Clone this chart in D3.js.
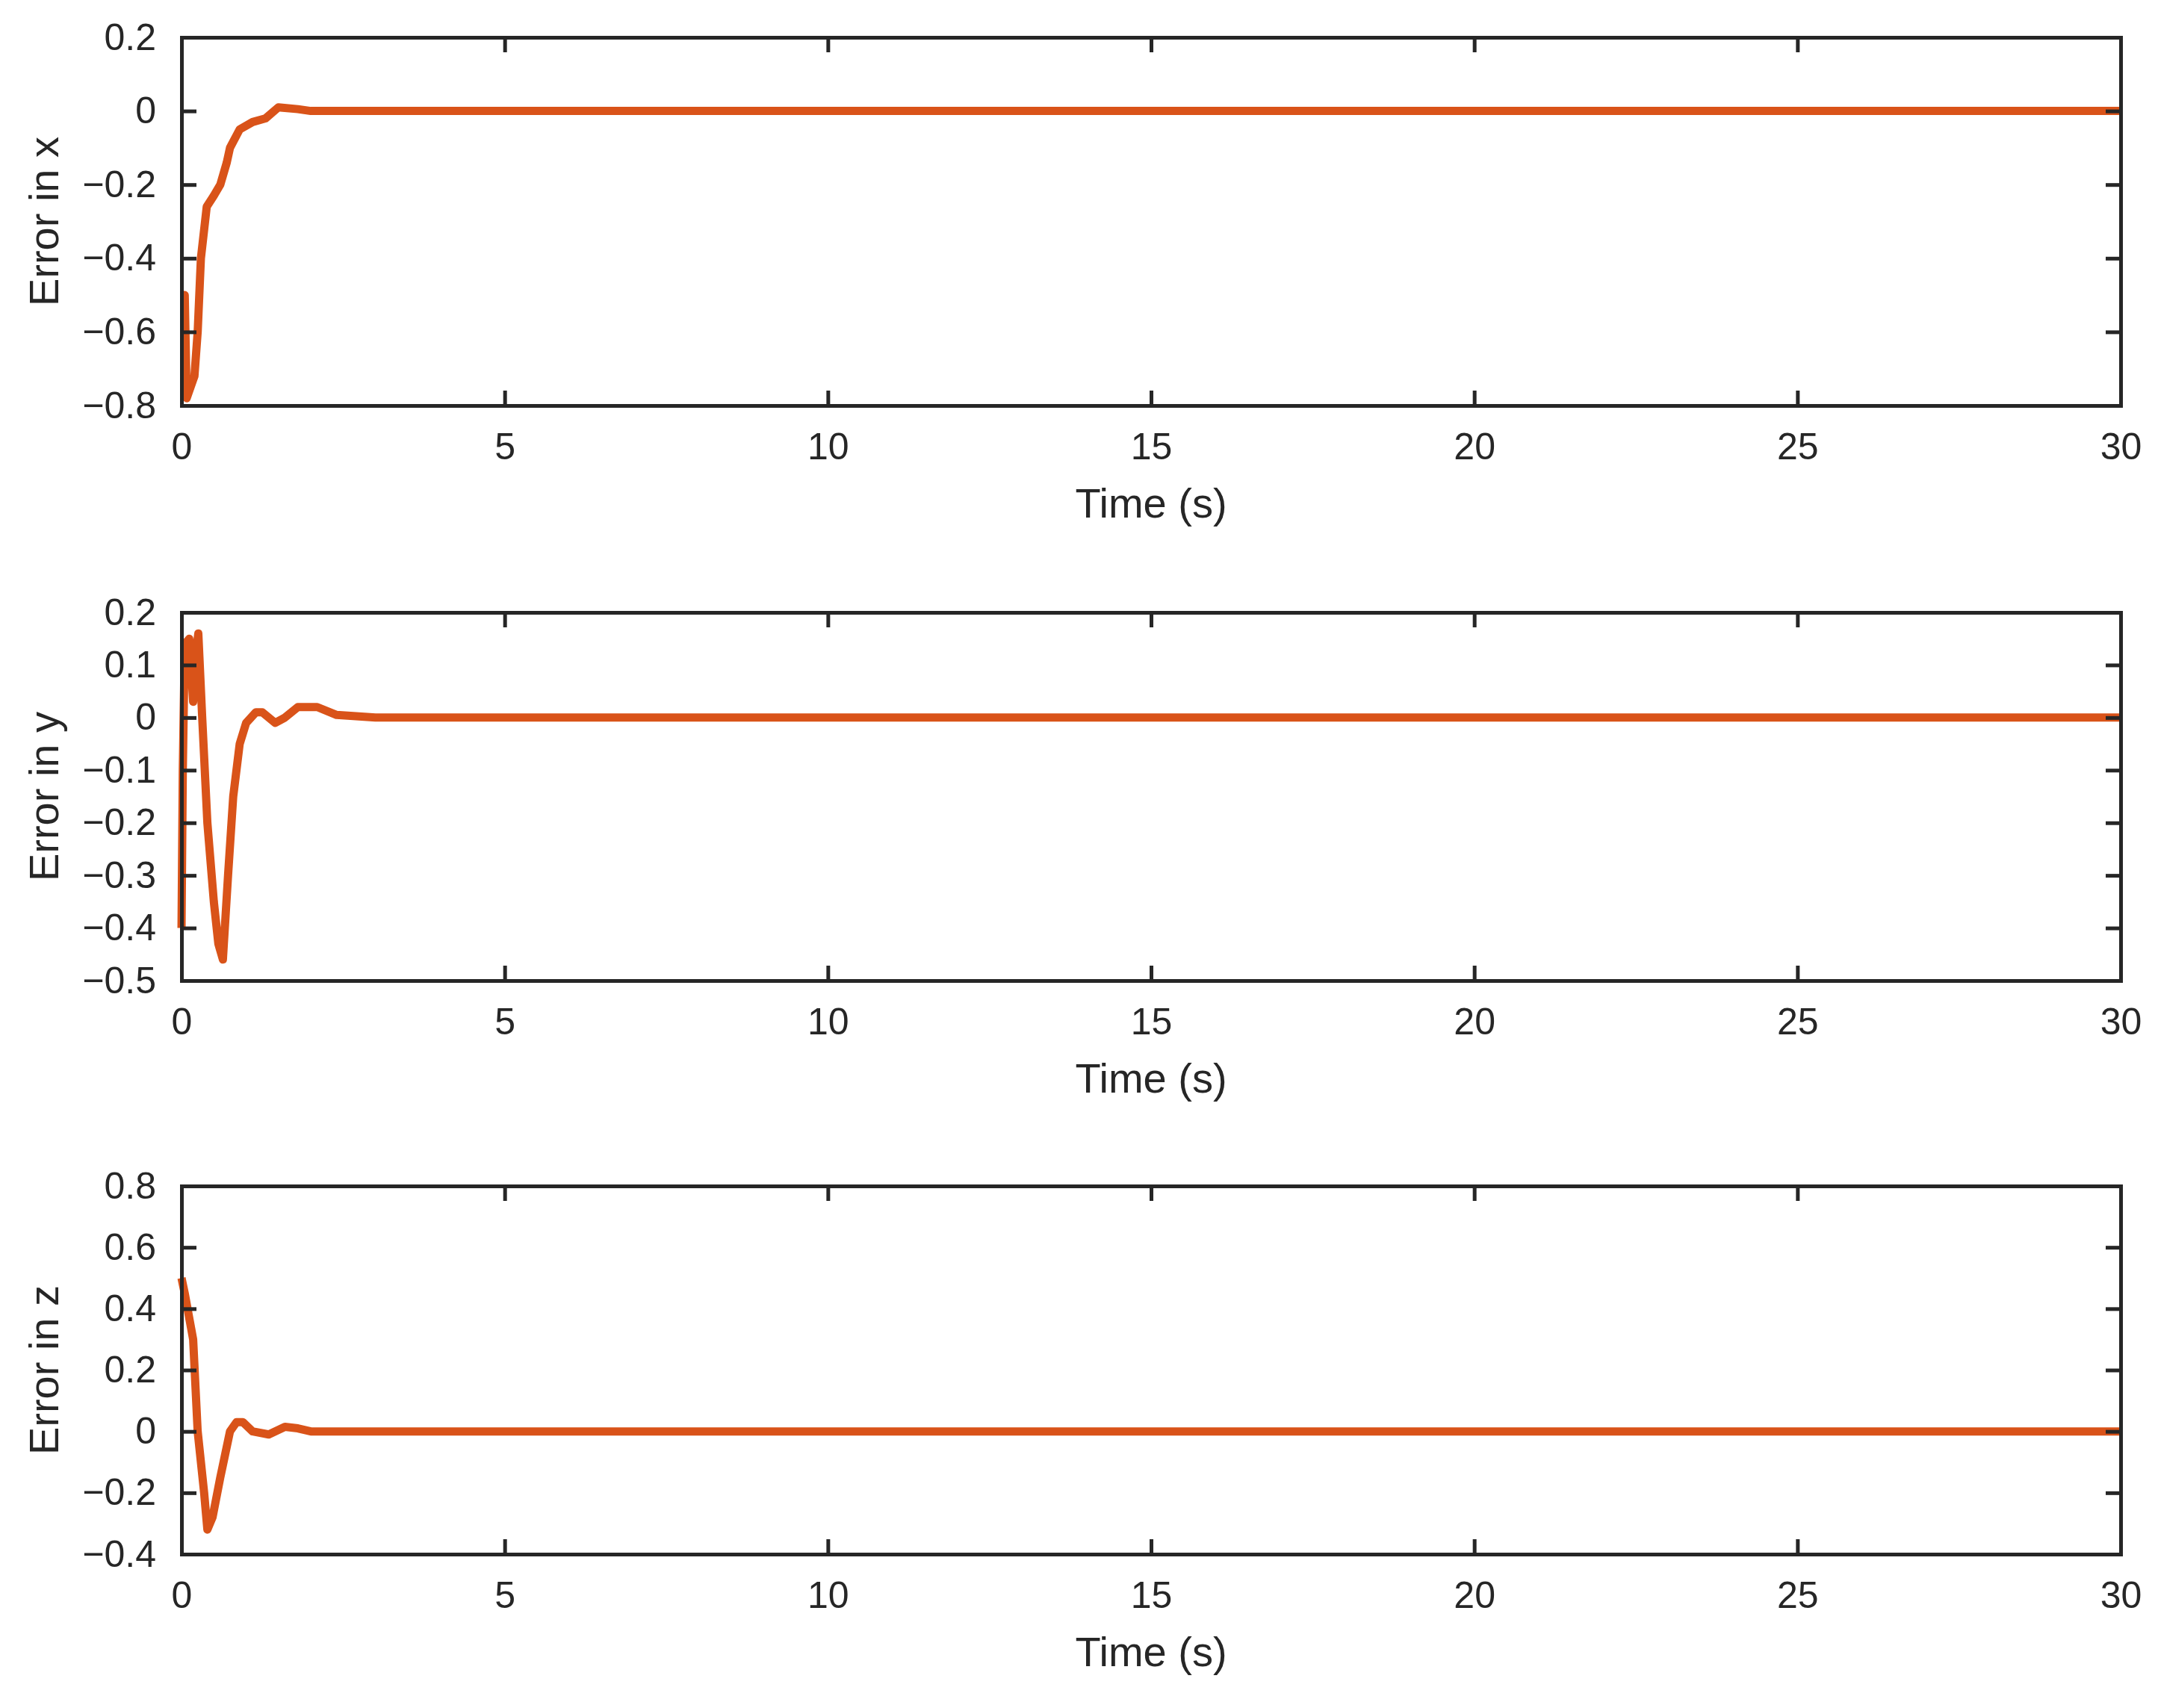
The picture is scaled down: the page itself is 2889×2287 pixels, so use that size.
<!DOCTYPE html>
<html>
<head>
<meta charset="utf-8">
<script src="https://cdn.jsdelivr.net/npm/d3@7"></script>
<style>
  body { margin: 0; background: #fff; }
  text { font-family: "Liberation Sans", Arial, sans-serif; fill: #262626; }
</style>
</head>
<body>
<svg id="chart" width="2889" height="2287"></svg>
<script>
// time samples and errors
const timeX = [0, 0.05, 0.08, 0.2, 0.25, 0.3, 0.39, 0.5, 0.6, 0.7, 0.75, 0.9, 1.1, 1.3, 1.5, 1.8, 2, 30];
const errX  = [-0.5, -0.5, -0.78, -0.72, -0.6, -0.4, -0.26, -0.23, -0.2, -0.14, -0.1, -0.05, -0.03, -0.02, 0.01, 0.005, 0, 0];

const timeY = [0, 0.02, 0.05, 0.12, 0.18, 0.22, 0.26, 0.32, 0.4, 0.5, 0.57, 0.64, 0.72, 0.8, 0.9, 1.0, 1.15, 1.25, 1.45, 1.6, 1.8, 2.1, 2.4, 3, 30];
const errY  = [-0.4, -0.1, 0.14, 0.15, 0.03, 0.12, 0.16, 0.0, -0.2, -0.35, -0.43, -0.46, -0.3, -0.15, -0.05, -0.01, 0.01, 0.01, -0.01, 0.0, 0.02, 0.02, 0.005, 0, 0];

const timeZ = [0, 0.05, 0.18, 0.25, 0.35, 0.4, 0.48, 0.6, 0.75, 0.85, 0.95, 1.1, 1.35, 1.6, 1.8, 2, 30];
const errZ  = [0.5, 0.45, 0.3, 0.0, -0.2, -0.32, -0.28, -0.15, 0.0, 0.03, 0.03, 0.0, -0.01, 0.015, 0.01, 0, 0];

const xTicks = [0, 5, 10, 15, 20, 25, 30];
const panels = [
  { label: "Error in x", t: timeX, v: errX, domain: [-0.8, 0.2], ticks: [-0.8, -0.6, -0.4, -0.2, 0, 0.2] },
  { label: "Error in y", t: timeY, v: errY, domain: [-0.5, 0.2], ticks: [-0.5, -0.4, -0.3, -0.2, -0.1, 0, 0.1, 0.2] },
  { label: "Error in z", t: timeZ, v: errZ, domain: [-0.4, 0.8], ticks: [-0.4, -0.2, 0, 0.2, 0.4, 0.6, 0.8] }
];
const tops = [50, 820, 1588];

const left = 243, right = 2839, ph = 493, tick = 20, fs = 50;
const svg = d3.select("#chart");
const x = d3.scaleLinear().domain([0, 30]).range([left, right]);
const fmt = d => d === 0 ? "0" : d3.format(".1f")(d);

panels.forEach((p, i) => {
  const top = tops[i], bottom = top + ph;
  const y = d3.scaleLinear().domain(p.domain).range([bottom, top]);
  const g = svg.append("g");

  // data line under the frame
  g.append("path")
    .datum(p.t.map((t, k) => [t, p.v[k]]))
    .attr("fill", "none")
    .attr("stroke", "#D95319")
    .attr("stroke-width", 11)
    .attr("stroke-linejoin", "round")
    .attr("d", d3.line().x(d => x(d[0])).y(d => y(d[1])));

  // axes with inward ticks on all sides
  g.append("g").attr("transform", `translate(0,${bottom})`)
    .call(d3.axisBottom(x).tickValues(xTicks).tickSize(-tick).tickPadding(tick + 16).tickFormat(d3.format("d")));
  g.append("g").attr("transform", `translate(0,${top})`)
    .call(d3.axisTop(x).tickValues(xTicks).tickSize(-tick).tickFormat(""));
  g.append("g").attr("transform", `translate(${left},0)`)
    .call(d3.axisLeft(y).tickValues(p.ticks).tickSize(-tick).tickPadding(tick + 14).tickFormat(fmt));
  g.append("g").attr("transform", `translate(${right},0)`)
    .call(d3.axisRight(y).tickValues(p.ticks).tickSize(-tick).tickFormat(""));

  g.selectAll(".domain").attr("stroke", "#262626").attr("stroke-width", 5);
  g.selectAll(".tick line").attr("stroke", "#262626").attr("stroke-width", 5);
  g.selectAll(".tick text").style("font-size", fs + "px").style("font-family", "Liberation Sans, Arial, sans-serif").attr("fill", "#262626");

  g.append("text")
    .attr("x", (left + right) / 2).attr("y", bottom + 150)
    .attr("text-anchor", "middle").style("font-size", "56px")
    .text("Time (s)");
  g.append("text")
    .attr("transform", `translate(78,${(top + bottom) / 2}) rotate(-90)`)
    .attr("text-anchor", "middle").style("font-size", "56px")
    .text(p.label);
});
</script>
</body>
</html>
